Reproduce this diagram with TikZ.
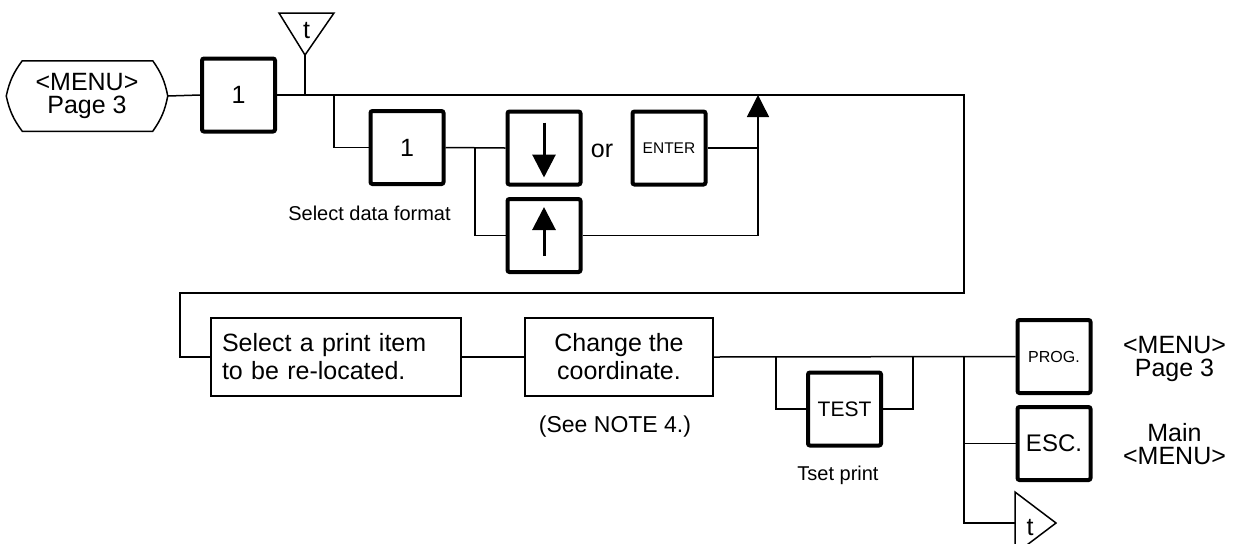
\documentclass[tikz,border=0pt]{standalone}
\usepackage{fontspec}
\setmainfont{Liberation Sans}
\usetikzlibrary{arrows.meta}

\begin{document}
\begin{tikzpicture}[x=0.5pt,y=-0.5pt,line width=0.75pt,
  key/.style={draw,line width=2pt,rounded corners=1pt,minimum width=36.5pt,
    minimum height=36.5pt,inner sep=0pt,font=\fontsize{12.5}{14}\selectfont},
  stepbox/.style={draw,line width=0.85pt,inner sep=0pt,minimum height=39pt,
    align=center,font=\fontsize{12.5}{14}\selectfont},
  note/.style={font=\fontsize{10}{12}\selectfont},
  keyarrow/.style={line width=1.5pt,-{Triangle[width=11.5pt,length=11.5pt]}},
  upto/.style={-{Triangle[width=11pt,length=11pt]}}]
\useasboundingbox (0,0) rectangle (1239,543);

% start
\node[inner sep=0pt,minimum width=80pt,minimum height=34.5pt,align=center,
  font=\fontsize{12.5}{11.5}\selectfont] (menu) at (87,96) {<MENU>\\Page 3};
\draw ([xshift=8pt]menu.north west) -- ([xshift=-7.5pt]menu.north east)
  to[bend left=12] (menu.east) to[bend left=12] ([xshift=-7.5pt]menu.south east)
  -- ([xshift=8pt]menu.south west) to[bend left=12] (menu.west)
  to[bend left=12] cycle;
\node[key] (key1) at (238.5,95) {1};
\draw (menu.east) -- (key1.west);

% t in
\coordinate (tapex) at (305,55);
\draw (279,13) -- (334,13) -- (tapex) -- cycle;
\node[font=\fontsize{12.5}{14}\selectfont] (tin) at (306.5,31) {t};
\draw (tapex) -- (tapex |- key1.east);

% data format
\node[key] (keyb) at (407,147.5) {1};
\node[note] (fmt) at (369.5,213) {Select data format};
\node[key] (down) at (544,148) {};
\node[key] (up) at (544,235.5) {};
\node[key,font=\fontsize{7.75}{9}\selectfont] (enter) at (669,148) {ENTER};
\node[font=\fontsize{12.5}{14}\selectfont] (or) at (602,151) {or};
\draw[keyarrow] ([yshift=-6.5pt]down.north) -- ([yshift=4.5pt]down.south);
\draw[keyarrow] ([yshift=9pt]up.south) -- ([yshift=-5pt]up.north);

\coordinate (br1) at (334,95);
\coordinate (br2) at (475,148);
\coordinate (loopup) at (758,95);
\coordinate (loopne) at (964,95);
\coordinate (loopsw) at (180,293);
\draw (br1) |- (keyb.west);
\draw (keyb.east) -- (down.west);
\draw (br2) |- (up.west);
\draw (enter.east) -- (enter.east -| loopup);
\draw[upto] (up.east) -| (loopup);

% print item
\node[stepbox,text width=114pt,align=left,inner xsep=5.5pt] (select) at (336,357)
  {Select a print item\\to be re-located.};
\node[stepbox,minimum width=94pt] (change) at (619,357) {Change the\\coordinate.};
\node[font=\fontsize{11.5}{13}\selectfont] (see) at (615,427) {(See NOTE 4.)};
\draw (key1.east) -- (loopne) |- (loopsw) |- (select.west);
\draw (select.east) -- (change.west);

% test print
\node[key,font=\fontsize{10.5}{12}\selectfont] (test) at (844.5,409) {TEST};
\node[note] (tset) at (838,475) {Tset print};
\node[key,font=\fontsize{8}{9}\selectfont] (prog) at (1054,356.5) {PROG.};
\node[key,font=\fontsize{12}{14}\selectfont] (esc) at (1054,443.5) {ESC.};
\node[align=center,font=\fontsize{12.5}{11.5}\selectfont] (pg3) at (1174.5,359)
  {<MENU>\\Page 3};
\node[align=center,font=\fontsize{12.5}{11.5}\selectfont] (mainmenu) at (1174.5,444)
  {Main\\<MENU>};
\draw (change.east) -- (prog.west);

\coordinate (tsl) at (776,357);
\coordinate (tsr) at (913,357);
\coordinate (br3) at (964,357);
\draw (tsl) |- (test.west);
\draw (test.east) -| (tsr);
\draw (br3) |- (esc.west);

% t out
\coordinate (tback) at (1015,523);
\draw (1015,492) -- (1056,523) -- (1015,554) -- cycle;
\node[font=\fontsize{12.5}{14}\selectfont] (tout) at (1030,528) {t};
\draw (br3) |- (tback);
\end{tikzpicture}
\end{document}
